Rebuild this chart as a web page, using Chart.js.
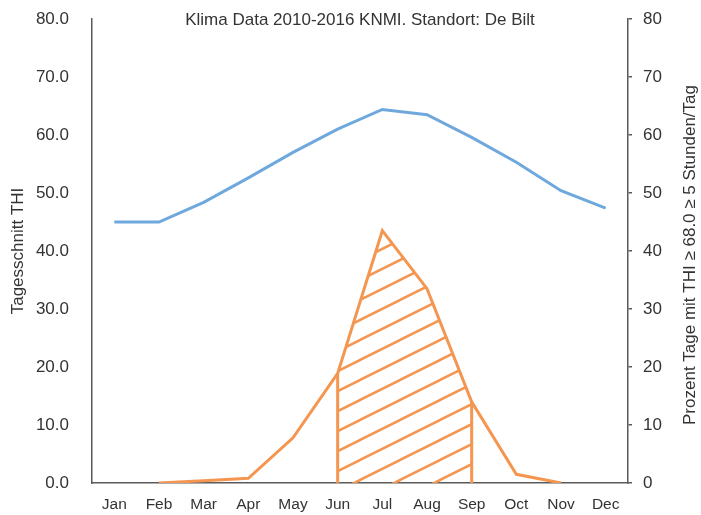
<!DOCTYPE html>
<html>
<head>
<meta charset="utf-8">
<title>Klima Data 2010-2016 KNMI</title>
<script src="https://cdn.jsdelivr.net/npm/chart.js@4.4.1/dist/chart.umd.min.js"></script>
<style>
    html, body { margin: 0; padding: 0; background: #fff; }
    #wrap { width: 701px; height: 515px; }
</style>
</head>
<body>
<div id="wrap"><canvas id="klimaChart" width="701" height="515"></canvas></div>
<script>
// Daten
const months = ['Jan', 'Feb', 'Mar', 'Apr', 'May', 'Jun', 'Jul', 'Aug', 'Sep', 'Oct', 'Nov', 'Dec'];
const thiAvg = [45.0, 45.0, 48.4, 52.6, 57.0, 61.0, 64.4, 63.5, 59.6, 55.3, 50.4, 47.4];
const hotDaysPct = [null, 0, 0.4, 0.8, 7.8, 18.9, 43.5, 33.5, 14.0, 1.5, 0, null];
const hotDaysHatch = [null, null, null, null, null, 18.9, 43.5, 33.5, 14.0, null, null, null];

const chartTitle = 'Klima Data 2010-2016 KNMI. Standort: De Bilt';
const leftTitle = 'Tagesschnitt THI';
const rightTitle = 'Prozent Tage mit THI \u2265 68.0 \u2265 5 Stunden/Tag';

const blue = '#6fa8dc';
const orange = '#f49550';
const textColor = '#333333';
const axisColor = '#5a5a5a';
const fontFamily = '"Liberation Sans", Arial, Helvetica, sans-serif';

function makeHatch(color) {
    const tile = document.createElement('canvas');
    tile.width = 40;
    tile.height = 20;
    const c = tile.getContext('2d');
    c.strokeStyle = color;
    c.lineWidth = 2.5;
    [-20, 0, 20].forEach(off => {
        c.beginPath();
        c.moveTo(-2, 21 + off);
        c.lineTo(42, -1 + off);
        c.stroke();
    });
    return c.createPattern(tile, 'repeat');
}

// senkrechte Kanten der schraffierten Fläche
const hatchEdges = {
    id: 'hatchEdges',
    afterDatasetsDraw(chart) {
        const meta = chart.getDatasetMeta(2);
        const pts = meta.data.filter((p, i) => hotDaysHatch[i] !== null);
        if (!pts.length) return;
        const y0 = chart.scales.y2.getPixelForValue(0);
        const ctx = chart.ctx;
        ctx.save();
        ctx.strokeStyle = orange;
        ctx.lineWidth = 3;
        [pts[0], pts[pts.length - 1]].forEach(p => {
            ctx.beginPath();
            ctx.moveTo(p.x, p.y);
            ctx.lineTo(p.x, y0);
            ctx.stroke();
        });
        ctx.restore();
    }
};

// Titel und rechter Achsentitel (von unten nach oben gelesen)
const extraText = {
    id: 'extraText',
    afterDraw(chart) {
        const { ctx, chartArea } = chart;
        ctx.save();
        ctx.fillStyle = textColor;
        ctx.font = '17px ' + fontFamily;
        ctx.textAlign = 'center';
        ctx.textBaseline = 'middle';
        ctx.fillText(chartTitle, (chartArea.left + chartArea.right) / 2, chartArea.top + 1);
        ctx.translate(chart.scales.y2.right - 11, (chartArea.top + chartArea.bottom) / 2 + 4);
        ctx.rotate(-Math.PI / 2);
        ctx.fillText(rightTitle, 0, 0);
        ctx.restore();
    }
};

// Achsen ohne automatischen Randabstand für die Beschriftung
const noLabelPad = s => { s.paddingTop = 0; s.paddingBottom = 0; };

new Chart(document.getElementById('klimaChart'), {
    type: 'line',
    data: {
        labels: months,
        datasets: [
            {
                label: leftTitle,
                data: thiAvg,
                yAxisID: 'y',
                borderColor: blue,
                borderWidth: 3,
                pointRadius: 0,
                tension: 0,
                fill: false
            },
            {
                label: 'Prozent Tage',
                data: hotDaysPct,
                yAxisID: 'y2',
                borderColor: orange,
                borderWidth: 3,
                pointRadius: 0,
                tension: 0,
                fill: false
            },
            {
                label: 'Schraffur',
                data: hotDaysHatch,
                yAxisID: 'y2',
                borderWidth: 0,
                borderColor: 'rgba(0,0,0,0)',
                backgroundColor: makeHatch(orange),
                pointRadius: 0,
                tension: 0,
                fill: 'origin'
            }
        ]
    },
    options: {
        responsive: false,
        animation: false,
        layout: { autoPadding: false, padding: { top: 19, left: 0, right: 0, bottom: 0 } },
        plugins: {
            legend: { display: false },
            tooltip: { enabled: false }
        },
        scales: {
            x: {
                offset: true,
                grid: { display: false, drawTicks: false },
                border: { display: true, color: axisColor, width: 1.5 },
                ticks: { color: textColor, padding: 12, font: { family: fontFamily, size: 15.5 }, maxRotation: 0, autoSkip: false },
                afterFit: s => { s.height = 32; }
            },
            y: {
                position: 'left',
                min: 0,
                max: 80,
                grid: { display: false },
                border: { display: true, color: axisColor, width: 1.5 },
                ticks: {
                    stepSize: 10,
                    color: textColor,
                    padding: 15,
                    font: { family: fontFamily, size: 17 },
                    callback: v => Number(v).toFixed(1)
                },
                title: {
                    display: true,
                    text: leftTitle,
                    color: textColor,
                    padding: { top: 8, bottom: 0 },
                    font: { family: fontFamily, size: 17 }
                },
                afterFit: s => { s.width = 92; noLabelPad(s); }
            },
            y2: {
                position: 'right',
                min: 0,
                max: 80,
                grid: { display: true, drawOnChartArea: false, drawTicks: true, tickLength: 4, color: axisColor, lineWidth: 1.5 },
                border: { display: true, color: axisColor, width: 1.5 },
                ticks: {
                    stepSize: 10,
                    color: textColor,
                    padding: 11,
                    font: { family: fontFamily, size: 17 }
                },
                afterFit: s => { s.width = 73; noLabelPad(s); }
            }
        }
    },
    plugins: [hatchEdges, extraText]
});
</script>
</body>
</html>
